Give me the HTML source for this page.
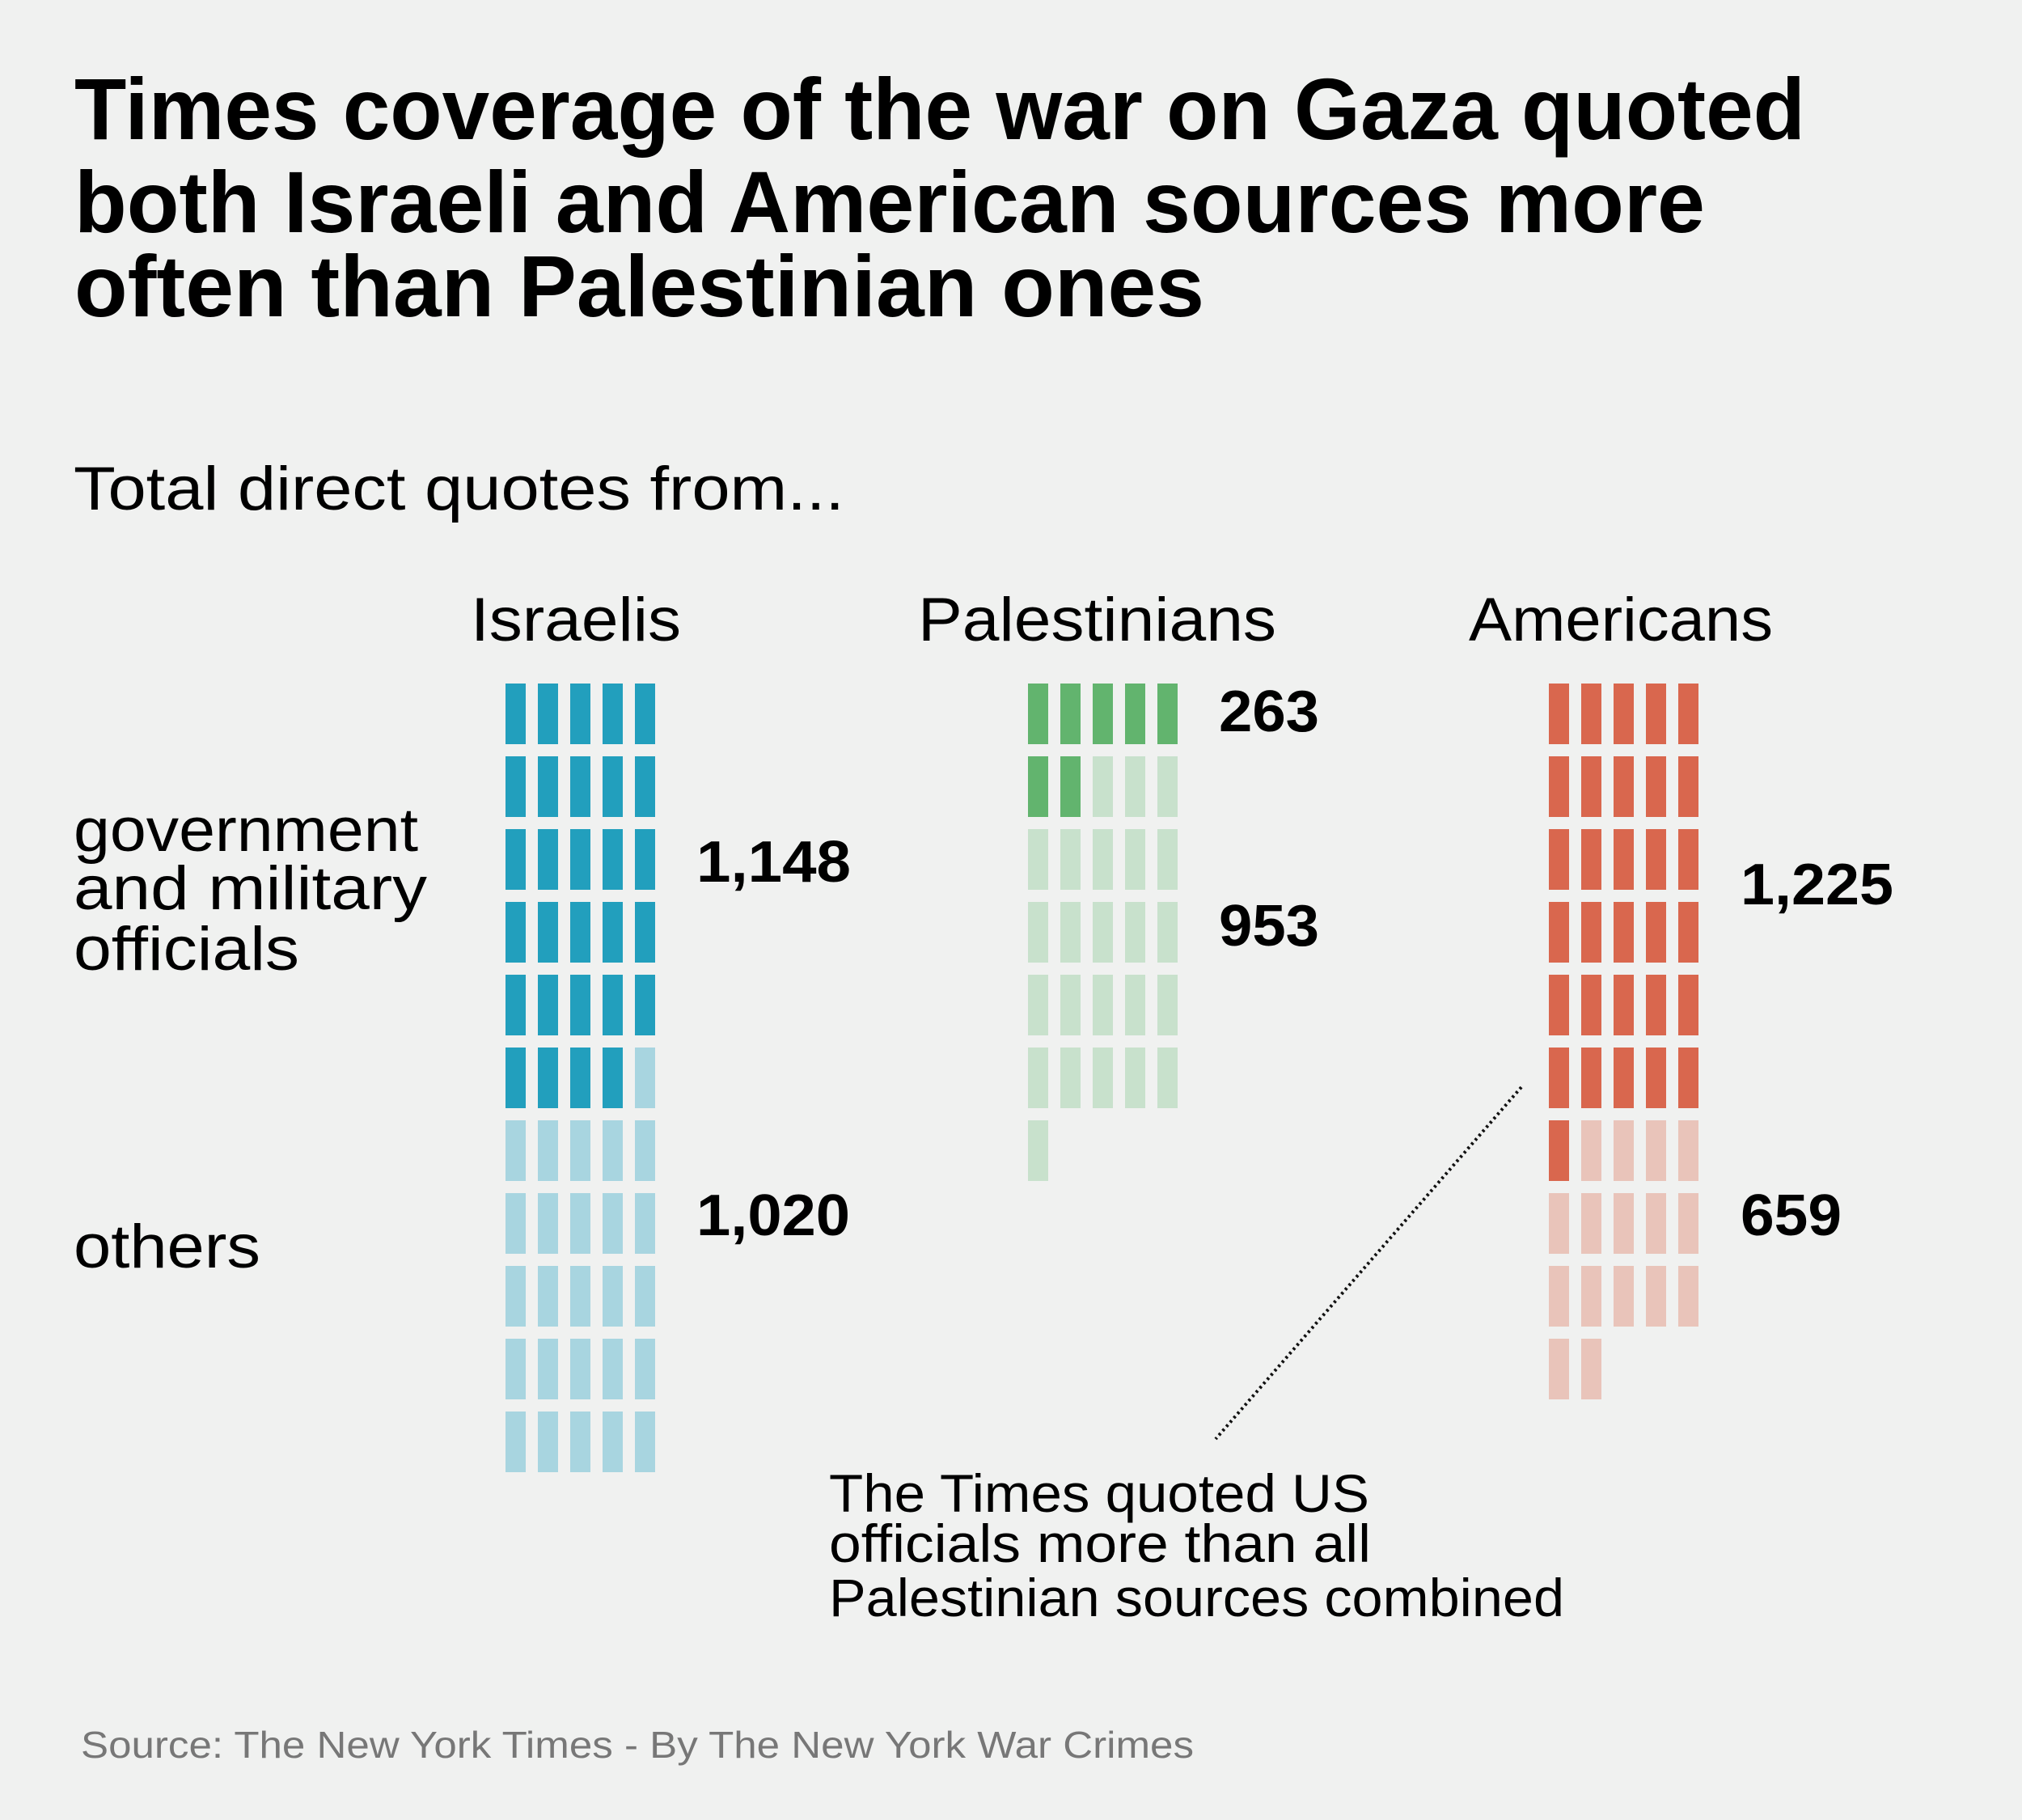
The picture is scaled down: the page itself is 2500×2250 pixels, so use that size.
<!DOCTYPE html>
<html><head><meta charset="utf-8"><style>
html,body{margin:0;padding:0;background:#f0f1f0;}
svg{display:block;}
text{font-family:"Liberation Sans Narrow","Liberation Sans",sans-serif;fill:#000;}
.t{font-weight:bold;font-size:108px;}
.r{font-size:76px;}
.n{font-weight:bold;font-size:72px;font-family:"Liberation Sans",sans-serif;}
.a{font-size:66px;}
.s{font-size:46px;fill:#777;}
</style></head><body>
<svg width="2500" height="2250" viewBox="0 0 2500 2250" xmlns="http://www.w3.org/2000/svg">
<rect width="2500" height="2250" fill="#f0f1f0"/>
<text class="t" x="92" y="172" textLength="2140" lengthAdjust="spacingAndGlyphs">Times coverage of the war on Gaza quoted</text>
<text class="t" x="92" y="287" textLength="2016" lengthAdjust="spacingAndGlyphs">both Israeli and American sources more</text>
<text class="t" x="92" y="391" textLength="1397" lengthAdjust="spacingAndGlyphs">often than Palestinian ones</text>
<text class="r" x="91" y="630" textLength="953" lengthAdjust="spacingAndGlyphs">Total direct quotes from...</text>
<text class="r" x="582" y="792" textLength="260" lengthAdjust="spacingAndGlyphs">Israelis</text>
<text class="r" x="1135" y="792" textLength="443" lengthAdjust="spacingAndGlyphs">Palestinians</text>
<text class="r" x="1816" y="792" textLength="376" lengthAdjust="spacingAndGlyphs">Americans</text>
<text class="r" x="91" y="1052" textLength="426" lengthAdjust="spacingAndGlyphs">government</text>
<text class="r" x="91" y="1124" textLength="437" lengthAdjust="spacingAndGlyphs">and military</text>
<text class="r" x="91" y="1199" textLength="279" lengthAdjust="spacingAndGlyphs">officials</text>
<text class="r" x="91" y="1567" textLength="231" lengthAdjust="spacingAndGlyphs">others</text>
<text class="n" x="861" y="1090" textLength="191" lengthAdjust="spacingAndGlyphs">1,148</text>
<text class="n" x="861" y="1527" textLength="190" lengthAdjust="spacingAndGlyphs">1,020</text>
<text class="n" x="1507" y="904" textLength="124" lengthAdjust="spacingAndGlyphs">263</text>
<text class="n" x="1507" y="1169" textLength="124" lengthAdjust="spacingAndGlyphs">953</text>
<text class="n" x="2152" y="1118" textLength="189" lengthAdjust="spacingAndGlyphs">1,225</text>
<text class="n" x="2152" y="1527" textLength="125" lengthAdjust="spacingAndGlyphs">659</text>
<text class="a" x="1025" y="1869" textLength="668" lengthAdjust="spacingAndGlyphs">The Times quoted US</text>
<text class="a" x="1025" y="1931" textLength="670" lengthAdjust="spacingAndGlyphs">officials more than all</text>
<text class="a" x="1025" y="1998" textLength="909" lengthAdjust="spacingAndGlyphs">Palestinian sources combined</text>
<text class="s" x="100" y="2173" textLength="1376" lengthAdjust="spacingAndGlyphs">Source: The New York Times - By The New York War Crimes</text>
<line x1="1881" y1="1344" x2="1503" y2="1779" stroke="#111" stroke-width="4" stroke-dasharray="3,4"/>
<g id="w"></g>
</svg>
<script>
(function(){
var g=document.getElementById('w'),ns='http://www.w3.org/2000/svg';
function waffle(x0,dark,light,dc,lc){
 var n=dark+light;
 for(var i=0;i<n;i++){
  var r=Math.floor(i/5),c=i%5;
  var e=document.createElementNS(ns,'rect');
  e.setAttribute('x',x0+c*40);e.setAttribute('y',845+r*90);
  e.setAttribute('width',25);e.setAttribute('height',75);
  e.setAttribute('fill',i<dark?dc:lc);g.appendChild(e);
 }
}
waffle(625,29,26,'#229fbd','#a8d5e0');
waffle(1271,7,24,'#62b46e','#c8e1cc');
waffle(1915,31,16,'#d9674e','#e9c4ba');
})();
</script>
</body></html>
